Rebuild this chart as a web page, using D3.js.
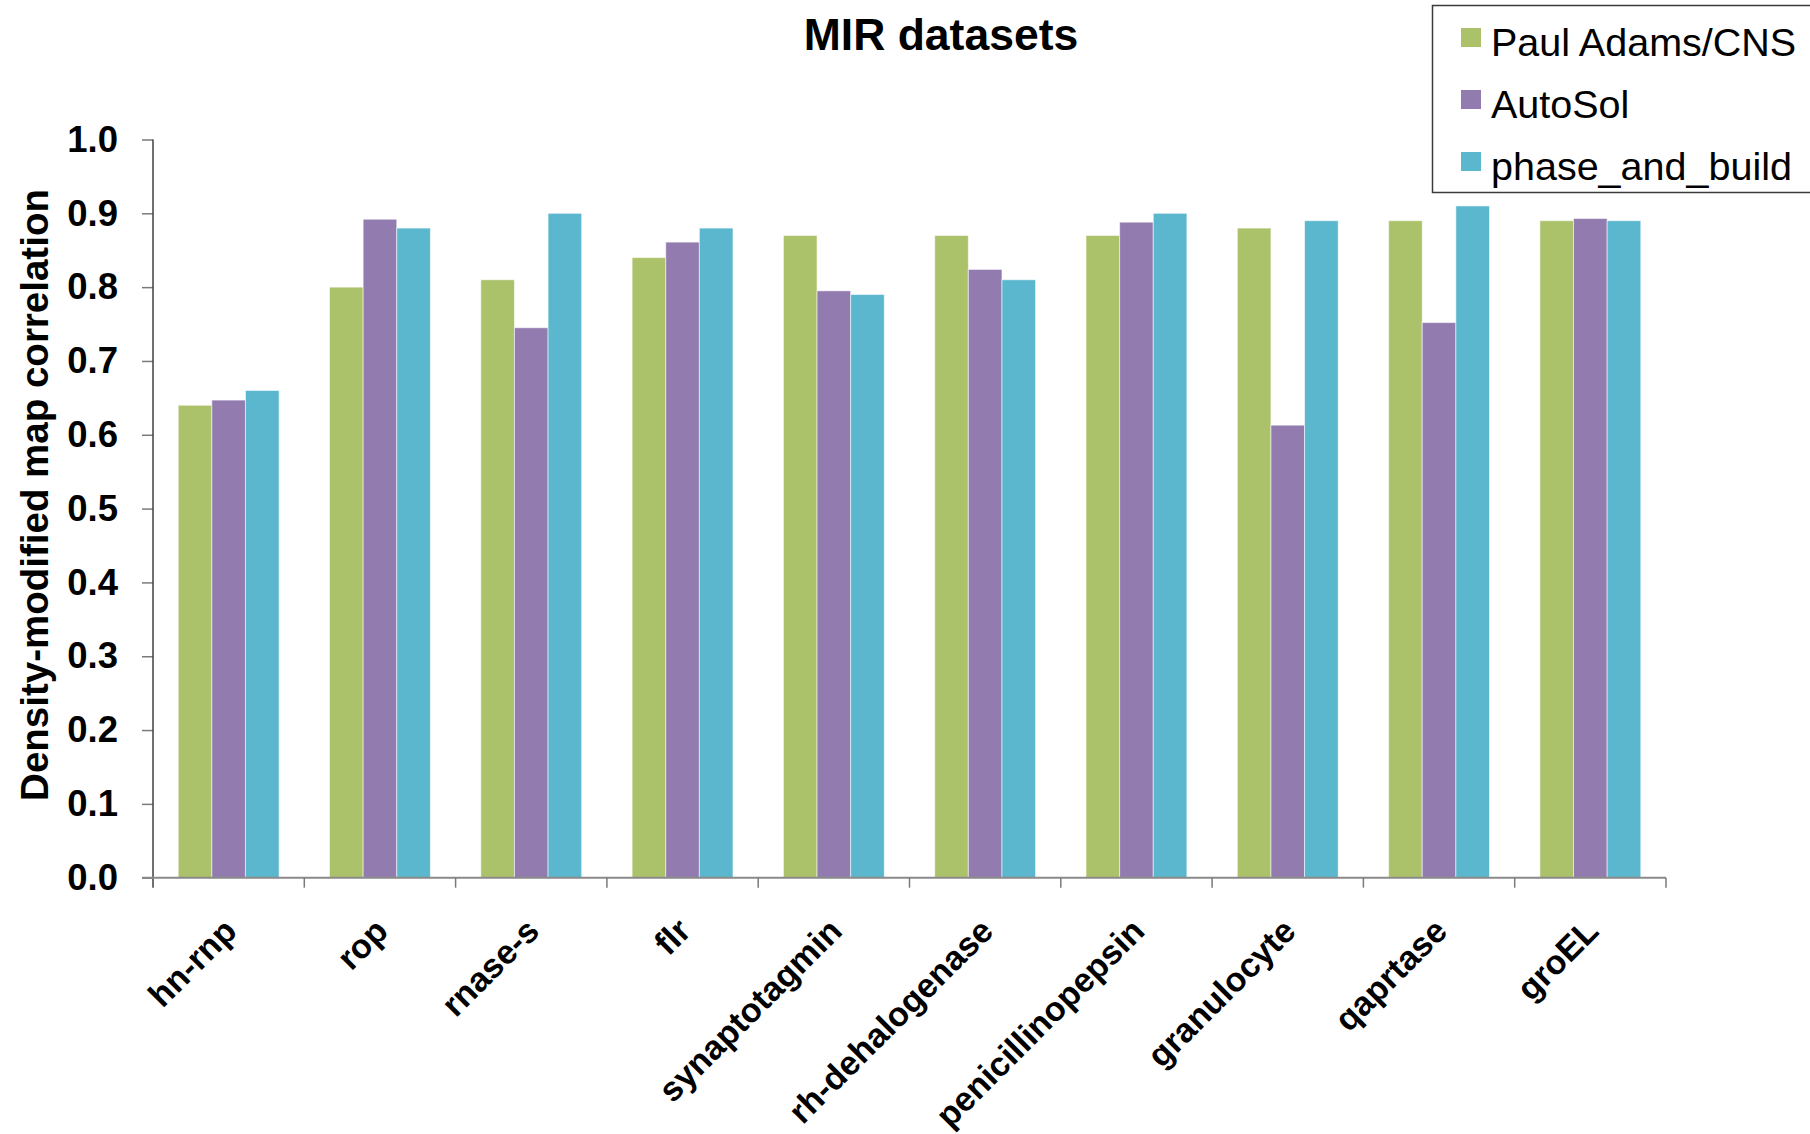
<!DOCTYPE html>
<html>
<head>
<meta charset="utf-8">
<script src="https://cdn.jsdelivr.net/npm/d3@7/dist/d3.min.js"></script>
<style>
  html, body { margin: 0; padding: 0; background: #ffffff; }
  svg { display: block; }
  text { font-family: "Liberation Sans", Arial, sans-serif; fill: #000; }
</style>
</head>
<body>
<svg id="chart" width="1810" height="1134"></svg>
<script>
// Datasets and per-method correlations
const categories = ["hn-rnp", "rop", "rnase-s", "flr", "synaptotagmin", "rh-dehalogenase",
                    "penicillinopepsin", "granulocyte", "qaprtase", "groEL"];
const seriesNames = ["Paul Adams/CNS", "AutoSol", "phase_and_build"];
const paulAdamsCNS  = [0.64, 0.80, 0.81, 0.84, 0.87, 0.87, 0.87, 0.88, 0.89, 0.89];
const autoSol       = [0.647, 0.892, 0.745, 0.861, 0.795, 0.824, 0.888, 0.613, 0.752, 0.893];
const phaseAndBuild = [0.66, 0.88, 0.90, 0.88, 0.79, 0.81, 0.90, 0.89, 0.91, 0.89];
const yTicks = [0, 0.1, 0.2, 0.3, 0.4, 0.5, 0.6, 0.7, 0.8, 0.9, 1.0];
const seriesColors = ["#ABC26A", "#927CAF", "#5BB7CE"];

const seriesValues = [paulAdamsCNS, autoSol, phaseAndBuild];

const svg = d3.select("#chart");
const plot = { left: 153, right: 1666, top: 139.5, bottom: 877.7 };

const x0 = d3.scaleBand().domain(categories).range([plot.left, plot.right]).padding(0);
const x1 = d3.scaleBand().domain(seriesNames).range([0, x0.bandwidth()])
  .paddingInner(0).paddingOuter(0.75);
const y = d3.scaleLinear().domain([0, 1]).range([plot.bottom, plot.top]);
const color = d3.scaleOrdinal().domain(seriesNames).range(seriesColors);

// Title
svg.append("text")
  .attr("x", 941).attr("y", 50)
  .attr("text-anchor", "middle")
  .style("font-size", "44.5px").style("font-weight", "bold")
  .text("MIR datasets");

// Bars
const groups = svg.append("g").selectAll("g")
  .data(categories)
  .join("g")
  .attr("transform", d => `translate(${x0(d)},0)`);

groups.selectAll("rect")
  .data((c, i) => seriesNames.map((s, k) => ({ series: s, value: seriesValues[k][i] })))
  .join("rect")
  .attr("x", d => x1(d.series))
  .attr("width", x1.bandwidth())
  .attr("y", d => y(d.value))
  .attr("height", d => y(0) - y(d.value))
  .attr("fill", d => color(d.series))
  .attr("stroke", "rgba(255,255,255,0.55)")
  .attr("stroke-width", 1);

// Y axis
const yAxis = svg.append("g")
  .attr("transform", `translate(${plot.left},0)`)
  .call(d3.axisLeft(y).tickValues(yTicks).tickFormat(d3.format(".1f"))
    .tickSize(11).tickPadding(24));
yAxis.select(".domain").remove();
yAxis.selectAll(".tick line").attr("stroke", "#7a7a7a").attr("stroke-width", 1.5);
yAxis.selectAll(".tick text")
  .style("font-family", "'Liberation Sans', Arial, sans-serif")
  .style("font-size", "36.5px").style("font-weight", "bold").attr("fill", "#000");
svg.append("line")
  .attr("x1", plot.left).attr("x2", plot.left)
  .attr("y1", plot.top).attr("y2", plot.bottom + 10)
  .attr("stroke", "#404040").attr("stroke-width", 1.5);

// X axis with ticks on category boundaries
svg.append("line")
  .attr("x1", plot.left - 11).attr("x2", plot.right)
  .attr("y1", plot.bottom).attr("y2", plot.bottom)
  .attr("stroke", "#8a8a8a").attr("stroke-width", 2);
const boundaries = categories.map(c => x0(c)).concat([x0(categories[categories.length - 1]) + x0.bandwidth()]);
svg.append("g").selectAll("line")
  .data(boundaries.slice(1))
  .join("line")
  .attr("x1", d => d).attr("x2", d => d)
  .attr("y1", plot.bottom).attr("y2", plot.bottom + 10)
  .attr("stroke", "#7a7a7a").attr("stroke-width", 1.5);

// Rotated category labels
svg.append("g").selectAll("text")
  .data(categories)
  .join("text")
  .attr("transform", d => `translate(${x0(d) + x0.bandwidth() / 2 + 10},933) rotate(-45)`)
  .attr("text-anchor", "end")
  .style("font-size", "34px").style("font-weight", "bold")
  .text(d => d);

// Y axis title
svg.append("text")
  .attr("transform", "translate(48,495) rotate(-90)")
  .attr("text-anchor", "middle")
  .style("font-size", "38.5px").style("font-weight", "bold")
  .text("Density-modified map correlation");

// Legend
const legend = svg.append("g");
legend.append("rect")
  .attr("x", 1432.5).attr("y", 5.5)
  .attr("width", 400).attr("height", 187)
  .attr("fill", "#fff").attr("stroke", "#3a3a3a").attr("stroke-width", 1.5);
const items = legend.selectAll("g.item")
  .data(seriesNames)
  .join("g").attr("class", "item")
  .attr("transform", (d, i) => `translate(1461,${28 + i * 62})`);
items.append("rect")
  .attr("width", 20).attr("height", 19)
  .attr("fill", d => color(d));
items.append("text")
  .attr("x", 30).attr("y", 28)
  .style("font-size", "39.5px")
  .text(d => d);
</script>
</body>
</html>
